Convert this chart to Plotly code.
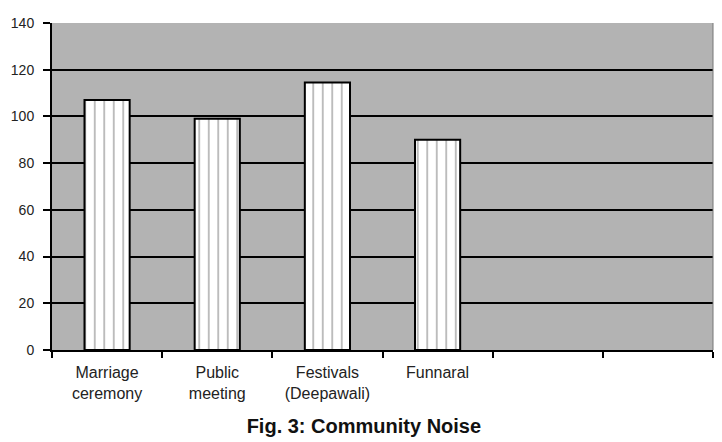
import plotly.graph_objects as go

categories = ["Marriage<br>ceremony", "Public<br>meeting", "Festivals<br>(Deepawali)", "Funnaral", " ", "  "]
values = [107, 99, 114.5, 90, None, None]
y_ticks = [0, 20, 40, 60, 80, 100, 120, 140]
title_text = "<b>Fig. 3: Community Noise</b>"

fig = go.Figure()
fig.add_trace(go.Bar(
    x=categories,
    y=values,
    width=0.41,
    marker=dict(
        color="white",
        line=dict(color="black", width=2),
        pattern=dict(shape="|", size=9.5, solidity=0.2, fgcolor="#7a7a7a", bgcolor="white", fillmode="overlay"),
    ),
    showlegend=False,
))

fig.update_layout(
    width=722, height=442,
    margin=dict(l=52, r=9, t=23, b=92),
    paper_bgcolor="white",
    plot_bgcolor="#b3b3b3",
    font=dict(family="Arial, Liberation Sans, sans-serif", color="#222"),
    title=dict(text=title_text, x=0.504, xref="container", xanchor="center",
               y=16 / 442, yref="container", yanchor="middle",
               font=dict(size=20, color="#111")),
    bargap=0.59,
)

fig.update_xaxes(
    type="category",
    categoryorder="array",
    categoryarray=categories,
    tickson="boundaries",
    ticks="outside",
    ticklen=6,
    tickwidth=2,
    tickcolor="black",
    showline=True,
    linecolor="black",
    linewidth=2,
    showgrid=False,
    tickfont=dict(size=16, color="#222"),
    tickangle=0,
    ticklabelstandoff=7,
)

fig.update_yaxes(
    range=[0, 140],
    tickvals=y_ticks,
    ticks="outside",
    ticklen=7,
    tickwidth=2,
    tickcolor="black",
    showline=True,
    linecolor="black",
    linewidth=2,
    showgrid=True,
    gridcolor="black",
    gridwidth=1.5,
    zeroline=False,
    tickfont=dict(size=14, color="#222"),
    ticklabelstandoff=6,
)

fig.add_shape(type="line", xref="paper", yref="paper", x0=1, x1=1, y0=0, y1=1,
              line=dict(color="#777", width=1))

fig.write_html("out.html")
